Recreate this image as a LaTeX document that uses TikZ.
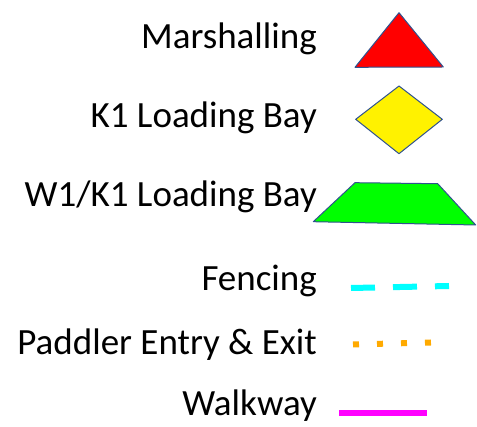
\documentclass[tikz,border=0pt]{standalone}
\usepackage{fontspec}
\setmainfont{Carlito}
\definecolor{edgeblue}{HTML}{2F528F}
\definecolor{fenc}{HTML}{00FFFF}
\definecolor{padd}{HTML}{FFAA00}
\definecolor{walk}{HTML}{FF00FF}
\begin{document}
\begin{tikzpicture}[x=1pt,y=-1pt,
  lbl/.style={anchor=base east,inner sep=0pt,font=\fontsize{37}{44}\selectfont},
  shp/.style={draw=edgeblue,line width=1pt,line join=round}]
\useasboundingbox[fill=white] (0,0) rectangle (477,427);
\node[lbl] (m) at (317,49) {Marshalling};
\node[lbl] (k) at (317,128) {K1 Loading Bay};
\node[lbl] (w) at (317,207) {W1/K1 Loading Bay};
\node[lbl] (f) at (317,291) {Fencing};
\node[lbl] (p) at (317,355) {Paddler Entry \& Exit};
\node[lbl] (wk) at (317,416) {Walkway};
% shapes
\fill[red] (399,12.7) -- (443.3,67) -- (355,67.3) -- cycle;
\draw[shp] (399,12.7) -- (443.3,67) -- (355,67.3) -- cycle;
\fill[yellow] (399,86) -- (442.3,119.3) -- (399,153.7) -- (355.7,119.3) -- cycle;
\draw[shp] (399,86) -- (442.3,119.3) -- (399,153.7) -- (355.7,119.3) -- cycle;
\fill[green] (355,182.7) -- (437.7,183.7) -- (475.7,225) -- (313.3,221.7) -- cycle;
\draw[shp] (355,182.7) -- (437.7,183.7) -- (475.7,225) -- (313.3,221.7) -- cycle;
% lines
\coordinate (f1) at (351,288);
\coordinate (f2) at (449,286);
\draw[fenc,line width=6pt,dash pattern=on 24pt off 18pt] (f1) -- (f2);
\coordinate (p1) at (353,344.5);
\coordinate (p2) at (431,342.5);
\draw[padd,line width=6pt,dash pattern=on 6pt off 18pt] (p1) -- (p2);
\coordinate (w1) at (339,413.3);
\coordinate (w2) at (427,413.3);
\draw[walk,line width=6pt] (w1) -- (w2);
\end{tikzpicture}
\end{document}
